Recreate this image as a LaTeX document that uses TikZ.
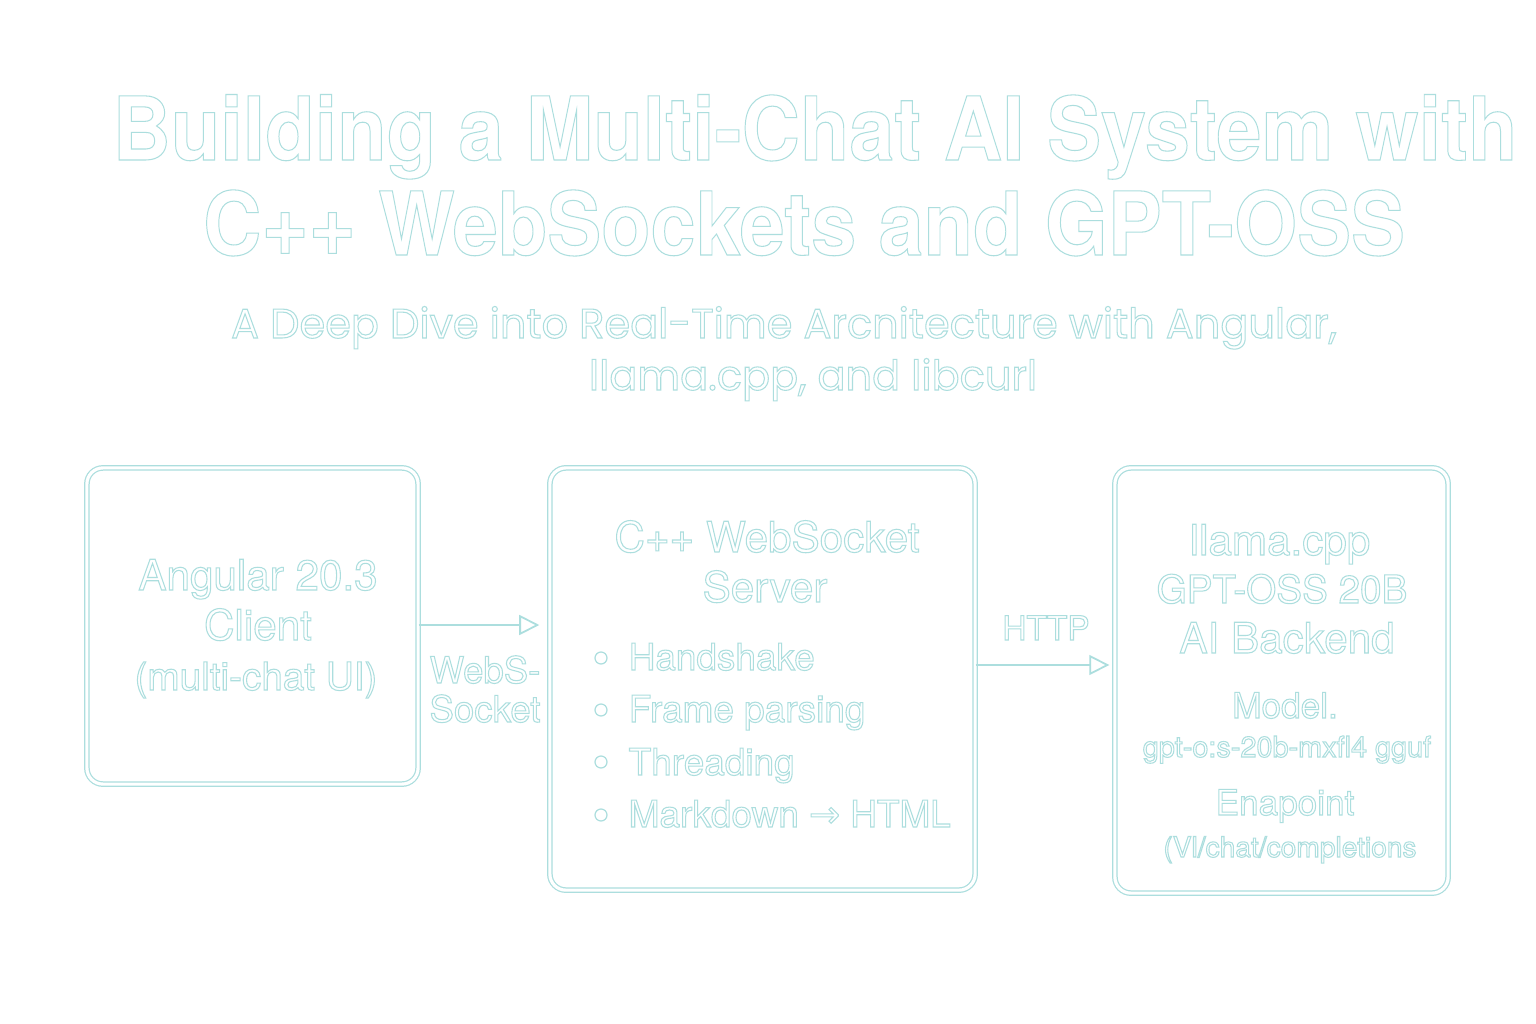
\documentclass[tikz,border=0pt]{standalone}
\usepackage{fontspec}
\setmainfont{TeX Gyre Heros}
\newfontfamily\subfont{Poppins}
\newfontfamily\symfont{DejaVu Sans}
\usetikzlibrary{positioning,arrows.meta}
\definecolor{ink}{RGB}{172,222,222}
% hollow (stroked) letters
\newcommand\hollow[1]{\special{pdf:literal direct 1 Tr 0.3 w}#1\special{pdf:literal direct 0 Tr}}
\tikzset{
  flowarrow/.style={-{Triangle[open,length=2mm,width=2mm]}, draw=ink, line width=0.5pt},
  tierbox/.style={draw=ink, double=white, double distance=0.9pt, line width=0.35pt, rounded corners=0.16cm, inner sep=0pt},
  headline/.style={font=\bfseries\fontsize{25}{30}\selectfont, text=ink, anchor=base, inner sep=0pt},
  subline/.style={font=\subfont\fontsize{11.8}{14}\selectfont, text=ink, anchor=base, inner sep=0pt},
  boxtext/.style={font=\fontsize{12}{14}\selectfont, text=ink, anchor=base, inner sep=0pt},
  itemtext/.style={font=\fontsize{10.5}{13}\selectfont, text=ink, anchor=base west, inner sep=0pt},
  smalltext/.style={font=\fontsize{8.2}{10}\selectfont, text=ink, anchor=base, inner sep=0pt},
  bullet/.style={circle, draw=ink, line width=0.35pt, minimum size=0.12cm, inner sep=0pt}
}
\begin{document}
\begin{tikzpicture}[x=0.01cm, y=-0.01cm]
  \useasboundingbox[fill=white] (0,0) rectangle (1536,1024);
  % title
  \node[headline] (title1) at (815,160) {\scalebox{0.92}[1]{\hollow{Building a Multi-Chat AI System with}}};
  \node[headline] (title2) at (804,255) {\scalebox{0.92}[1]{\hollow{C++ WebSockets and GPT-OSS}}};
  \node[subline] (sub1) at (784,338) {\hollow{A Deep Dive into Real-Time Arcnitecture with Angular,}};
  \node[subline] (sub2) at (813,390) {\hollow{llama.cpp, and libcurl}};
  % tiers
  \node[tierbox, minimum width=3.31cm, minimum height=3.16cm] (client) at (252.5,626) {};
  \node[tierbox, minimum width=4.25cm, minimum height=4.22cm] (server) at (762.5,679) {};
  \node[tierbox, minimum width=3.33cm, minimum height=4.25cm] (backend) at (1281.5,680.5) {};
  % client
  \node[boxtext] (cl1) at (258,590) {\hollow{Angular 20.3}};
  \node[boxtext] (cl2) at (258,640) {\hollow{Client}};
  \node[boxtext, font=\fontsize{11}{13}\selectfont] (cl3) at (256,690) {\hollow{(multi-chat UI)}};
  % server
  \node[boxtext] (sv1) at (767,552) {\hollow{C++ WebSocket}};
  \node[boxtext] (sv2) at (765,602) {\hollow{Server}};
  \node[bullet] (b1) at (601,658) {};
  \node[bullet] (b2) at (601,710) {};
  \node[bullet] (b3) at (601,762) {};
  \node[bullet] (b4) at (601,815) {};
  \node[itemtext] (it1) at (628,670) {\hollow{Handshake}};
  \node[itemtext] (it2) at (628,722) {\hollow{Frame parsing}};
  \node[itemtext] (it3) at (628,775) {\hollow{Threading}};
  \node[itemtext] (it4) at (628,827) {\hollow{Markdown {\symfont→} HTML}};
  % backend
  \node[boxtext] (be1) at (1280,555) {\hollow{llama.cpp}};
  \node[boxtext, font=\fontsize{11}{13}\selectfont] (be2) at (1282,603) {\hollow{GPT-OSS 20B}};
  \node[boxtext] (be3) at (1287,653) {\hollow{AI Backend}};
  \node[boxtext, font=\fontsize{10}{12}\selectfont] (be4) at (1285,718) {\hollow{Model.}};
  \node[smalltext] (be5) at (1287,757) {\hollow{gpt-o:s-20b-mxfl4 gguf}};
  \node[boxtext, font=\fontsize{10}{12}\selectfont] (be6) at (1285,815) {\hollow{Enapoint}};
  \node[smalltext, font=\fontsize{8}{10}\selectfont] (be7) at (1290,857) {\hollow{(Vl/chat/completions}};
  % links
  \draw[flowarrow, shorten >=0.1cm] ([yshift=0.01cm]client.east) -- ([yshift=0.01cm]client.east -| server.west);
  \node[boxtext, font=\fontsize{10.4}{12}\selectfont] (ws1) at (485,683) {\hollow{WebS-}};
  \node[boxtext, font=\fontsize{10.4}{12}\selectfont] (ws2) at (485,722) {\hollow{Socket}};
  \draw[flowarrow, shorten >=0.05cm] ([yshift=0.14cm]server.east) -- ([yshift=0.14cm]server.east -| backend.west);
  \node[boxtext, font=\fontsize{9.5}{12}\selectfont] (http) at (1046,640) {\hollow{HTTP}};
\end{tikzpicture}
\end{document}
